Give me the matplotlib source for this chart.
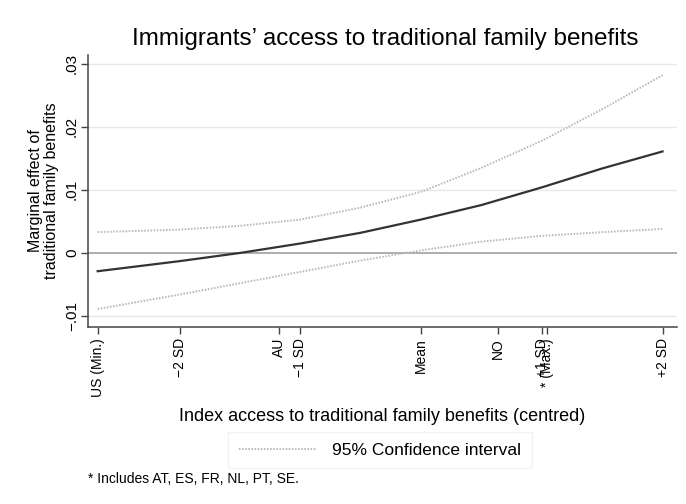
import numpy as np
import matplotlib
matplotlib.use('Agg')
import matplotlib.pyplot as plt
from matplotlib.lines import Line2D

plt.rcParams['font.family'] = ['Liberation Sans', 'DejaVu Sans']

# index in SD units (centred), with marginal effect and 95% CI bounds
index_sd = [-2.68, -2.0, -1.5, -1.0, -0.5, 0.0, 0.5, 1.0, 1.5, 2.0]
effect = [-0.0029, -0.0013, 0.0000, 0.0015, 0.0032, 0.0053, 0.0076, 0.0104, 0.0134, 0.0161]
ci_upper = [0.0033, 0.0037, 0.0043, 0.0053, 0.0072, 0.0097, 0.0135, 0.0178, 0.0228, 0.0282]
ci_lower = [-0.0089, -0.0066, -0.0048, -0.0030, -0.0012, 0.0004, 0.0018, 0.0027, 0.0033, 0.0038]

# reference points on the x axis
xtick_pos = [-2.68, -2.0, -1.18, -1.0, 0.0, 0.64, 1.0, 1.04, 2.0]
xtick_labels = ['US (Min.)', '\u22122 SD', 'AU', '\u22121 SD', 'Mean', 'NO', '+1 SD', '* (Max.)', '+2 SD']
ytick_pos = [-0.01, 0.0, 0.01, 0.02, 0.03]
ytick_labels = ['\u2212.01', '0', '.01', '.02', '.03']

fig = plt.figure(figsize=(6.86, 5.04), dpi=100)
ax = fig.add_axes([88/686, 1 - 327/504, (677 - 88)/686, (327 - 55)/504])

ci_style = dict(color='#b8b8b8', lw=1.4, linestyle=(0, (0.8, 0.8)))
ax.plot(index_sd, ci_upper, **ci_style)
ax.plot(index_sd, ci_lower, **ci_style)
ax.plot(index_sd, effect, color='#333333', lw=1.6)

ax.set_xlim(-2.76, 2.12)
ax.set_ylim(-0.01175, 0.0314)

for y in ytick_pos:
    ax.axhline(y, color='#a0a0a0' if y == 0 else '#e8e8e8', lw=1.2 if y == 0 else 1.0, zorder=0)

ax.set_yticks(ytick_pos)
ax.set_yticklabels(ytick_labels, rotation=90, va='center', fontsize=11)
ax.set_xticks(xtick_pos)
ax.set_xticklabels(xtick_labels, rotation=90, fontsize=10)
ax.tick_params(axis='both', direction='out', length=5, width=1, color='#444444', pad=3)
ax.tick_params(axis='y', pad=1.5)

for side in ['top', 'right']:
    ax.spines[side].set_visible(False)
for side in ['left', 'bottom']:
    ax.spines[side].set_color('#444444')
    ax.spines[side].set_linewidth(1.1)

ax.set_ylabel('Marginal effect of\ntraditional family benefits', fontsize=11.5, linespacing=1.15, labelpad=4)
ax.set_xlabel('Index access to traditional family benefits (centred)', fontsize=13, labelpad=8)
fig.text(385/686, 1 - 39/504, 'Immigrants\u2019 access to traditional family benefits',
         ha='center', va='center', fontsize=17.5)

handle = Line2D([], [], **ci_style)
leg = fig.legend([handle], ['95% Confidence interval'], loc='center',
                 bbox_to_anchor=(380/686, 1 - 450/504), fontsize=12.5,
                 handlelength=4.5, frameon=True, fancybox=False,
                 borderpad=0.6, handletextpad=0.9, borderaxespad=0)
leg.get_frame().set_edgecolor('#f0f0f0')
leg.get_frame().set_linewidth(1.0)

fig.text(88/686, 1 - 479/504, '* Includes AT, ES, FR, NL, PT, SE.', fontsize=10, va='center')

fig.savefig('out.png', dpi=100, facecolor='white')
